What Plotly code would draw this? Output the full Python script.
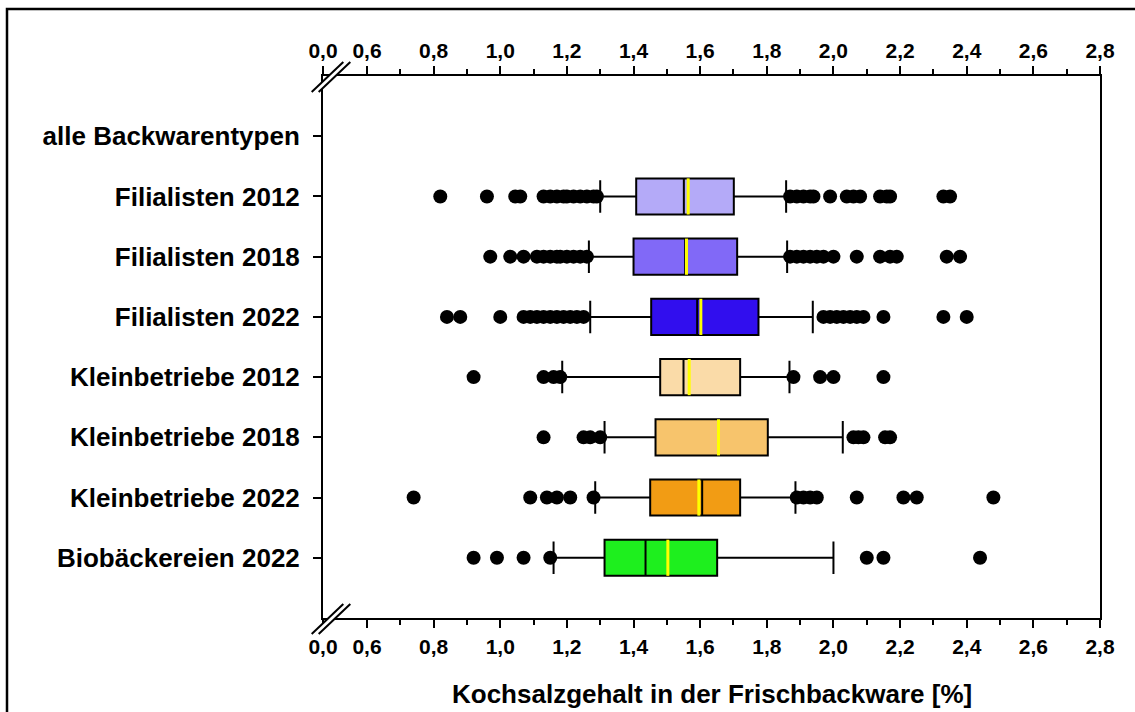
import plotly.graph_objects as go

# ---- data -------------------------------------------------------------
categories = [
    "alle Backwarentypen",
    "Filialisten 2012",
    "Filialisten 2018",
    "Filialisten 2022",
    "Kleinbetriebe 2012",
    "Kleinbetriebe 2018",
    "Kleinbetriebe 2022",
    "Biobäckereien 2022",
]

# groups that carry a box (all categories except the first one)
groups = categories[1:]

q1 = [1.408, 1.400, 1.453, 1.480, 1.466, 1.450, 1.313]
median = [1.551, 1.555, 1.591, 1.550, 1.655, 1.606, 1.436]
q3 = [1.701, 1.711, 1.775, 1.720, 1.803, 1.720, 1.651]
whisker_low = [1.300, 1.266, 1.270, 1.186, 1.313, 1.285, 1.160]
whisker_high = [1.858, 1.861, 1.938, 1.868, 2.028, 1.886, 2.000]
mean = [1.564, 1.559, 1.602, 1.567, 1.655, 1.596, 1.503]

outliers_filialisten_2012 = [0.82, 0.96, 1.045, 1.06, 1.13, 1.15, 1.17, 1.19, 1.20, 1.22,
                             1.24, 1.26, 1.28, 1.29, 1.87, 1.89, 1.91, 1.93, 1.94, 1.99,
                             2.04, 2.06, 2.08, 2.14, 2.16, 2.17, 2.33, 2.35]
outliers_filialisten_2018 = [0.97, 1.03, 1.07, 1.11, 1.13, 1.15, 1.17, 1.18, 1.20, 1.22,
                             1.24, 1.26, 1.87, 1.89, 1.91, 1.93, 1.95, 1.97, 2.00, 2.07,
                             2.14, 2.17, 2.19, 2.34, 2.38]
outliers_filialisten_2022 = [0.84, 0.88, 1.00, 1.07, 1.09, 1.11, 1.13, 1.15, 1.17, 1.19,
                             1.21, 1.23, 1.25, 1.97, 1.99, 2.01, 2.03, 2.05, 2.07, 2.09,
                             2.15, 2.33, 2.40]
outliers_kleinbetriebe_2012 = [0.92, 1.13, 1.16, 1.18, 1.88, 1.96, 2.00, 2.15]
outliers_kleinbetriebe_2018 = [1.13, 1.25, 1.27, 1.30, 2.06, 2.075, 2.09, 2.155, 2.17]
outliers_kleinbetriebe_2022 = [0.74, 1.09, 1.14, 1.17, 1.21, 1.28, 1.89, 1.91, 1.93, 1.95,
                               2.07, 2.21, 2.25, 2.48]
outliers_bio_2022 = [0.92, 0.99, 1.07, 1.15, 2.10, 2.15, 2.44]

outliers = [
    outliers_filialisten_2012,
    outliers_filialisten_2018,
    outliers_filialisten_2022,
    outliers_kleinbetriebe_2012,
    outliers_kleinbetriebe_2018,
    outliers_kleinbetriebe_2022,
    outliers_bio_2022,
]

fill_colors = ["#B4AAF8", "#8169F7", "#310EEE", "#FADBA8", "#F7C46C", "#F29C14", "#1EEF1E"]

x_tick_values = [0.6, 0.8, 1.0, 1.2, 1.4, 1.6, 1.8, 2.0, 2.2, 2.4, 2.6, 2.8]
x_tick_labels = ["0,6", "0,8", "1,0", "1,2", "1,4", "1,6", "1,8", "2,0", "2,2", "2,4", "2,6", "2,8"]
break_label = "0,0"

axis_title = "Kochsalzgehalt in der Frischbackware [%]"

# ---- layout constants ---------------------------------------------------
W, H = 1135, 712
M_L, M_R, M_T, M_B = 323, 35, 76, 94
PW, PH = W - M_L - M_R, H - M_T - M_B
X_START = 0.468          # left end of the broken axis (labelled 0,0)
X_END = 2.8
BOX_WIDTH = 0.6
FONT = "Liberation Sans, Arial, sans-serif"


def px(xp):
    return (xp - M_L) / PW


def py(yp):
    return (H - M_B - yp) / PH


fig = go.Figure()

positions = [categories.index(g) for g in groups]

for i, pos in enumerate(positions):
    fig.add_trace(go.Box(
        orientation="h",
        y=[pos],
        q1=[q1[i]], median=[median[i]], q3=[q3[i]],
        lowerfence=[whisker_low[i]], upperfence=[whisker_high[i]],
        boxpoints=False,
        width=BOX_WIDTH,
        whiskerwidth=0.9,
        fillcolor=fill_colors[i],
        line=dict(color="black", width=2),
        showlegend=False,
        hoverinfo="x",
    ))

# mean markers (yellow line across the box)
for i, pos in enumerate(positions):
    fig.add_trace(go.Scatter(
        x=[mean[i], mean[i]],
        y=[pos - BOX_WIDTH / 2, pos + BOX_WIDTH / 2],
        mode="lines",
        line=dict(color="#FFFF00", width=3),
        showlegend=False,
        hoverinfo="skip",
    ))

# outliers
for i, pos in enumerate(positions):
    fig.add_trace(go.Scatter(
        x=outliers[i],
        y=[pos] * len(outliers[i]),
        mode="markers",
        marker=dict(color="black", size=14, line=dict(width=0)),
        showlegend=False,
        hoverinfo="x",
    ))

# carrier trace for the top axis
fig.add_trace(go.Scatter(x=[x_tick_values[0]], y=[0], xaxis="x2", mode="markers",
                         marker=dict(opacity=0), showlegend=False, hoverinfo="skip"))

minor_vals = [round((a + b) / 2, 3) for a, b in zip(x_tick_values[:-1], x_tick_values[1:])]

x_axis_common = dict(
    range=[X_START, X_END],
    tickmode="array",
    tickvals=[X_START] + x_tick_values,
    ticktext=[break_label] + x_tick_labels,
    ticks="outside",
    ticklen=8,
    tickwidth=2,
    tickcolor="black",
    showline=True,
    linewidth=2,
    linecolor="black",
    showgrid=False,
    zeroline=False,
    tickfont=dict(family=FONT, size=21, color="black", weight="bold"),
    minor=dict(tickmode="array", tickvals=minor_vals, ticks="outside", ticklen=5,
               tickwidth=2, tickcolor="black", showgrid=False),
)

fig.update_layout(
    width=W, height=H,
    margin=dict(l=M_L, r=M_R, t=M_T, b=M_B, pad=0),
    paper_bgcolor="white",
    plot_bgcolor="white",
    showlegend=False,
    xaxis=dict(side="bottom", ticklabelstandoff=1, **x_axis_common),
    xaxis2=dict(side="top", overlaying="x", anchor="y", ticklabelstandoff=0, **x_axis_common),
    yaxis=dict(
        range=[8, -1],
        tickmode="array",
        tickvals=list(range(len(categories))),
        ticktext=categories,
        ticks="outside",
        ticklen=8,
        tickwidth=2,
        tickcolor="black",
        showline=True,
        linewidth=2,
        linecolor="black",
        mirror=True,
        showgrid=False,
        zeroline=False,
        ticklabelstandoff=8,
        tickfont=dict(family=FONT, size=26, color="black", weight="bold"),
    ),
)

fig.add_annotation(
    text=axis_title, xref="paper", yref="paper", x=0.5, y=0, yshift=-76,
    xanchor="center", yanchor="middle", showarrow=False,
    font=dict(family=FONT, size=26, color="black", weight="bold"),
)

# axis break symbols (//) at the left end of the top and bottom axes
shapes = []
for y_axis in (M_T, H - M_B):
    a = (px(311.7), py(y_axis + 16)), (px(343.3), py(y_axis - 14))
    b = (px(318.7), py(y_axis + 16)), (px(350.3), py(y_axis - 14))
    path = "M {} {} L {} {} L {} {} L {} {} Z".format(
        a[0][0], a[0][1], a[1][0], a[1][1], b[1][0], b[1][1], b[0][0], b[0][1])
    shapes.append(dict(type="path", path=path, xref="paper", yref="paper",
                       fillcolor="white", line=dict(width=0), layer="above"))
    for seg in (a, b):
        shapes.append(dict(type="line", xref="paper", yref="paper",
                           x0=seg[0][0], y0=seg[0][1], x1=seg[1][0], y1=seg[1][1],
                           line=dict(color="black", width=2), layer="above"))

# outer frame of the figure
shapes.append(dict(type="rect", xref="paper", yref="paper",
                   x0=px(7), y0=py(730), x1=px(1150), y1=py(9),
                   line=dict(color="black", width=2.5), fillcolor="rgba(0,0,0,0)",
                   layer="above"))

fig.update_layout(shapes=shapes)

fig.write_html("out.html")
